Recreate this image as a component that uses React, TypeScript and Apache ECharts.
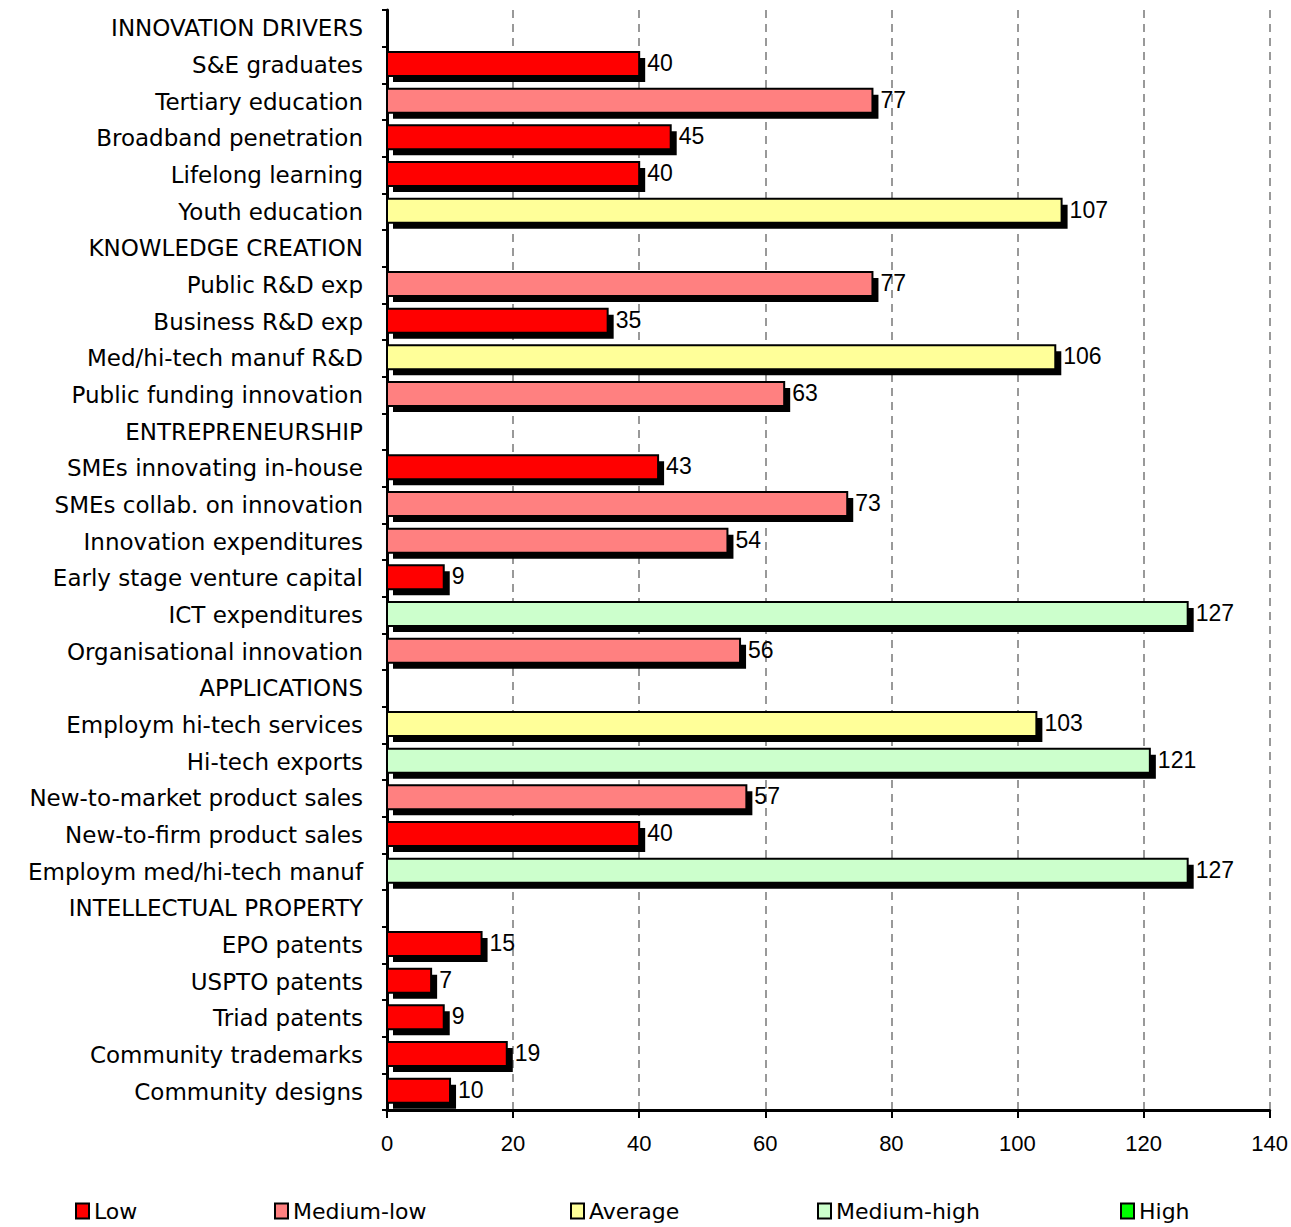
import React, { useEffect, useRef } from "react";
import * as echarts from "echarts";

const categories = [
  "INNOVATION DRIVERS",
  "S&E graduates",
  "Tertiary education",
  "Broadband penetration",
  "Lifelong learning",
  "Youth education",
  "KNOWLEDGE CREATION",
  "Public R&D exp",
  "Business R&D exp",
  "Med/hi-tech manuf R&D",
  "Public funding innovation",
  "ENTREPRENEURSHIP",
  "SMEs innovating in-house",
  "SMEs collab. on innovation",
  "Innovation expenditures",
  "Early stage venture capital",
  "ICT expenditures",
  "Organisational innovation",
  "APPLICATIONS",
  "Employm hi-tech services",
  "Hi-tech exports",
  "New-to-market product sales",
  "New-to-firm product sales",
  "Employm med/hi-tech manuf",
  "INTELLECTUAL PROPERTY",
  "EPO patents",
  "USPTO patents",
  "Triad patents",
  "Community trademarks",
  "Community designs",
];

// null = section header (no bar)
const values: (number | null)[] = [
  null, 40, 77, 45, 40, 107,
  null, 77, 35, 106, 63,
  null, 43, 73, 54, 9, 127, 56,
  null, 103, 121, 57, 40, 127,
  null, 15, 7, 9, 19, 10,
];

// performance class per row (index into classNames)
const classes: (number | null)[] = [
  null, 0, 1, 0, 0, 2,
  null, 1, 0, 2, 1,
  null, 0, 1, 1, 0, 3, 1,
  null, 2, 3, 1, 0, 3,
  null, 0, 0, 0, 0, 0,
];

const classNames = ["Low", "Medium-low", "Average", "Medium-high", "High"];
const classColors = ["#FF0000", "#FF8080", "#FFFF99", "#CCFFCC", "#00FF00"];
const xTicks = { min: 0, max: 140, interval: 20 };

const FONT = '"Liberation Sans", Arial, sans-serif';
const WIDE_FONT = '"DejaVu Sans", "Liberation Sans", sans-serif';

export default function App() {
  const ref = useRef<HTMLDivElement>(null);

  useEffect(() => {
    if (!ref.current) return;
    const chart = echarts.init(ref.current, null, { renderer: "svg" });

    const renderItem = (params: any, api: any) => {
      const v = api.value(0);
      const row = api.value(1);
      const start = api.coord([0, row]);
      const end = api.coord([v, row]);
      const cy = end[1];
      const x0 = start[0];
      const w = end[0] - start[0];
      const color = api.visual("color");
      return {
        type: "group",
        children: [
          {
            type: "rect",
            shape: { x: x0 + 6, y: cy - 7, width: w, height: 24 },
            style: { fill: "#000" },
          },
          {
            type: "rect",
            shape: { x: x0, y: cy - 13, width: w, height: 24 },
            style: { fill: color, stroke: "#000", lineWidth: 2 },
          },
          {
            type: "text",
            style: {
              text: String(v),
              x: end[0] + 8,
              y: cy - 2,
              verticalAlign: "middle",
              align: "left",
              fill: "#000",
              fontSize: 23,
              fontFamily: FONT,
            },
          },
        ],
      };
    };

    const series = classNames.map((name, ci) => ({
      type: "custom",
      name,
      renderItem,
      encode: { x: 0, y: 1 },
      itemStyle: { color: classColors[ci], borderColor: "#000", borderWidth: 2 },
      data: values
        .map((v, i) => (v !== null && classes[i] === ci ? [v, i] : null))
        .filter((d) => d !== null),
    }));

    const legendLefts = [70, 269, 565, 812, 1115];

    chart.setOption({
      animation: false,
      backgroundColor: "#fff",
      grid: { left: 387, right: 21, top: 10, bottom: 117, containLabel: false },
      xAxis: {
        type: "value",
        min: xTicks.min,
        max: xTicks.max,
        interval: xTicks.interval,
        axisLine: { show: true, lineStyle: { color: "#000", width: 3 } },
        axisTick: { show: true, length: 8, lineStyle: { color: "#000", width: 2 } },
        axisLabel: { color: "#000", fontSize: 22, fontFamily: FONT, margin: 22 },
        splitLine: { show: true, lineStyle: { color: "#999", width: 2, type: [8, 6] } },
      },
      yAxis: {
        type: "category",
        inverse: true,
        data: categories,
        axisLine: { show: true, lineStyle: { color: "#000", width: 3 } },
        axisTick: { show: true, length: 5, lineStyle: { color: "#000", width: 2 } },
        axisLabel: {
          color: "#000",
          fontSize: 23,
          fontFamily: WIDE_FONT,
          margin: 24,
          padding: [0, 0, 6, 0],
        },
        splitLine: { show: false },
      },
      legend: classNames.map((name, i) => ({
        data: [name],
        left: legendLefts[i],
        top: 1195,
        icon: "rect",
        itemWidth: 13,
        itemHeight: 15,
        selectedMode: false,
        itemStyle: { borderColor: "#000", borderWidth: 2 },
        textStyle: { color: "#000", fontSize: 22, fontFamily: WIDE_FONT },
      })),
      series,
    });

    return () => chart.dispose();
  }, []);

  return (
    <div
      ref={ref}
      style={{ position: "absolute", left: 0, top: 0, width: 1291, height: 1227 }}
    />
  );
}
